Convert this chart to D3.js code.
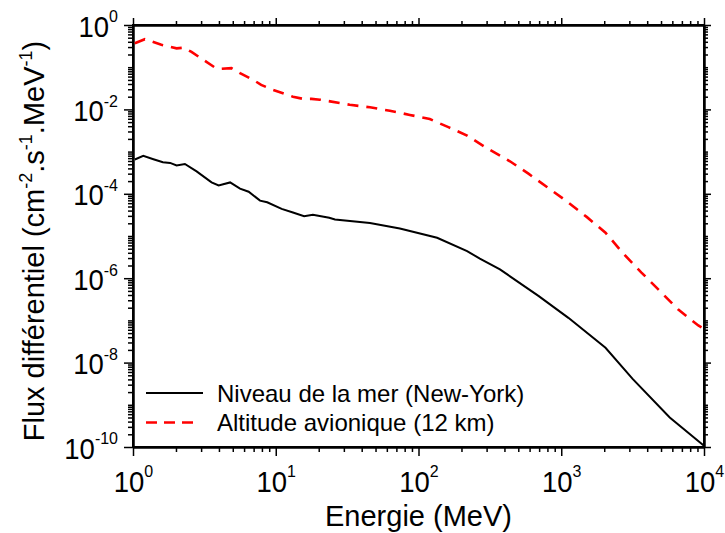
<!DOCTYPE html>
<html>
<head>
<meta charset="utf-8">
<script src="https://cdn.jsdelivr.net/npm/d3@7"></script>
<style>
  html, body { margin: 0; padding: 0; background: #fff; }
  svg { display: block; font-family: Arial, "Liberation Sans", sans-serif; }
</style>
</head>
<body>
<svg id="chart" width="725" height="533"></svg>
<script>
// ---- Data ----
const energySeaLevel = [1.03, 1.18, 1.39, 1.62, 1.82, 2.02, 2.31, 2.79, 3.55, 3.98, 4.79, 5.62, 6.46, 7.76, 8.71,
  11.0, 13.2, 15.8, 18.2, 23.7, 26, 45.7, 74, 135, 219, 269, 372, 692, 1122, 2042, 3162, 5754, 10000];
const fluxSeaLevel = [6.5e-4, 7.9e-4, 6.6e-4, 5.6e-4, 5.4e-4, 4.7e-4, 5.1e-4, 3.4e-4, 1.86e-4, 1.58e-4, 1.86e-4, 1.32e-4, 1.12e-4, 6.9e-5, 6.3e-5,
  4.4e-5, 3.6e-5, 2.95e-5, 3.2e-5, 2.7e-5, 2.45e-5, 2.04e-5, 1.51e-5, 9.1e-6, 4.4e-6, 2.9e-6, 1.62e-6, 3.8e-7, 1.15e-7, 2.24e-8, 4.1e-9, 5.0e-10, 1.07e-10];

const energyAltitude = [1.03, 1.21, 1.58, 2.02, 2.25, 2.57, 3.02, 3.75, 4.07, 4.9, 5.62, 6.97, 7.9, 9.6, 13.2, 15.5, 17.8, 20.4, 24,
  33, 45.7, 63, 87, 120, 162, 219, 302, 437, 589, 794, 1096, 1514, 2042, 2692, 3631, 4898, 6607, 9120, 10000];
const fluxAltitude = [0.37, 0.46, 0.34, 0.28, 0.29, 0.23, 0.16, 0.098, 0.091, 0.095, 0.072, 0.050, 0.038, 0.029, 0.020, 0.0178, 0.0178, 0.017, 0.0155,
  0.0129, 0.0112, 0.0093, 0.0074, 0.0059, 0.0038, 0.0024, 0.0012, 5.9e-4, 3.0e-4, 1.45e-4, 6.6e-5, 2.8e-5, 1.2e-5, 4.0e-6, 1.38e-6, 5.0e-7, 1.8e-7, 7.6e-8, 6.3e-8];

const xTickExponents = [0, 1, 2, 3, 4];
const yTickExponents = [0, -2, -4, -6, -8, -10];
const seriesNames = ["Niveau de la mer (New-York)", "Altitude avionique (12 km)"];
const xTitle = "Energie (MeV)";

// ---- Layout ----
const svg = d3.select("#chart");
const L = 133, R = 704, T = 25, B = 447;

const x = d3.scaleLog().domain([1, 1e4]).range([L, R]);
const y = d3.scaleLog().domain([1e-10, 1]).range([B, T]);

const xMajor = xTickExponents.map(e => Math.pow(10, e));
const yMajor = yTickExponents.map(e => Math.pow(10, e));
const xMinor = [];
for (let e = 0; e < 4; e++) for (let k = 2; k <= 9; k++) xMinor.push(k * Math.pow(10, e));
const yMinor = [];
for (let e = -10; e < 0; e++) for (let k = 1; k <= 9; k++) {
  const v = k * Math.pow(10, e);
  if (k === 1 && e % 2 === 0) continue;
  yMinor.push(v);
}

function styleAxis(g) {
  g.select(".domain").attr("stroke", "#000").attr("stroke-width", 2);
  g.selectAll(".tick line").attr("stroke", "#000").attr("stroke-width", 1.5);
}

// minor ticks
svg.append("g").attr("transform", `translate(0,${B})`)
  .call(d3.axisBottom(x).tickValues(xMinor).tickSize(5).tickSizeOuter(0).tickFormat("")).call(styleAxis);
svg.append("g").attr("transform", `translate(0,${T})`)
  .call(d3.axisTop(x).tickValues(xMinor).tickSize(4).tickSizeOuter(0).tickFormat("")).call(styleAxis);
svg.append("g").attr("transform", `translate(${L},0)`)
  .call(d3.axisLeft(y).tickValues(yMinor).tickSize(5).tickSizeOuter(0).tickFormat("")).call(styleAxis);
svg.append("g").attr("transform", `translate(${R},0)`)
  .call(d3.axisRight(y).tickValues(yMinor).tickSize(4).tickSizeOuter(0).tickFormat("")).call(styleAxis);

// major ticks
const xAxisG = svg.append("g").attr("transform", `translate(0,${B})`)
  .call(d3.axisBottom(x).tickValues(xMajor).tickSize(9).tickSizeOuter(0).tickPadding(4).tickFormat(() => "")).call(styleAxis);
svg.append("g").attr("transform", `translate(0,${T})`)
  .call(d3.axisTop(x).tickValues(xMajor).tickSize(7).tickSizeOuter(0).tickFormat("")).call(styleAxis);
const yAxisG = svg.append("g").attr("transform", `translate(${L},0)`)
  .call(d3.axisLeft(y).tickValues(yMajor).tickSize(9).tickSizeOuter(0).tickFormat(() => "")).call(styleAxis);
svg.append("g").attr("transform", `translate(${R},0)`)
  .call(d3.axisRight(y).tickValues(yMajor).tickSize(7).tickSizeOuter(0).tickFormat("")).call(styleAxis);

// x tick labels with superscript
xAxisG.selectAll(".tick text").each(function(d) {
  const t = d3.select(this);
  t.text(null).attr("y", 0).attr("dy", null)
    .attr("transform", "translate(0,44.7) scale(1,1.08)")
    .attr("font-size", 27.5).attr("fill", "#000").attr("text-anchor", "middle");
  t.append("tspan").text("10");
  t.append("tspan").attr("font-size", 16).attr("dy", -14).text(Math.round(Math.log10(d)));
});
// y tick labels with superscript
yAxisG.selectAll(".tick text").each(function(d) {
  const t = d3.select(this);
  t.text(null).attr("x", null).attr("dy", null).attr("y", null)
    .attr("transform", "translate(-15,11) scale(1,1.08)")
    .attr("font-size", 27.5).attr("fill", "#000").attr("text-anchor", "end");
  t.append("tspan").text("10");
  t.append("tspan").attr("font-size", 16).attr("dy", -13).text(Math.round(Math.log10(d)));
});

// frame
svg.append("rect").attr("x", L).attr("y", T).attr("width", R - L).attr("height", B - T)
  .attr("fill", "none").attr("stroke", "#000").attr("stroke-width", 2);

// lines
const line = d3.line().x(d => x(d[0])).y(d => y(d[1]));
const dataSea = energySeaLevel.map((e, i) => [e, fluxSeaLevel[i]]);
const dataAlt = energyAltitude.map((e, i) => [e, fluxAltitude[i]]);

svg.append("path").datum(dataAlt).attr("d", line)
  .attr("fill", "none").attr("stroke", "#ff0000").attr("stroke-width", 2.6)
  .attr("stroke-dasharray", "11,8");
svg.append("path").datum(dataSea).attr("d", line)
  .attr("fill", "none").attr("stroke", "#000").attr("stroke-width", 2);

// legend
const leg = svg.append("g");
leg.append("line").attr("x1", 146).attr("x2", 203).attr("y1", 393).attr("y2", 393)
  .attr("stroke", "#000").attr("stroke-width", 2);
leg.append("line").attr("x1", 146).attr("x2", 195).attr("y1", 422.5).attr("y2", 422.5)
  .attr("stroke", "#ff0000").attr("stroke-width", 2.6).attr("stroke-dasharray", "11,7");
leg.append("text").attr("x", 217).attr("y", 401.5).attr("font-size", 24).attr("fill", "#000").text(seriesNames[0]);
leg.append("text").attr("x", 217).attr("y", 431).attr("font-size", 24).attr("fill", "#000").text(seriesNames[1]);

// axis titles
svg.append("text").attr("x", (L + R) / 2).attr("y", 526).attr("text-anchor", "middle")
  .attr("font-size", 29).attr("fill", "#000").text(xTitle);

const yt = svg.append("text").attr("transform", `translate(44,${(T + B) / 2 + 5}) rotate(-90)`)
  .attr("text-anchor", "middle").attr("font-size", 29).attr("fill", "#000");
yt.append("tspan").text("Flux différentiel (cm");
yt.append("tspan").attr("font-size", 18).attr("dy", -12).text("-2");
yt.append("tspan").attr("dy", 12).text(".s");
yt.append("tspan").attr("font-size", 18).attr("dy", -12).text("-1");
yt.append("tspan").attr("dy", 12).text(".MeV");
yt.append("tspan").attr("font-size", 18).attr("dy", -12).text("-1");
yt.append("tspan").attr("dy", 12).text(")");
</script>
</body>
</html>
